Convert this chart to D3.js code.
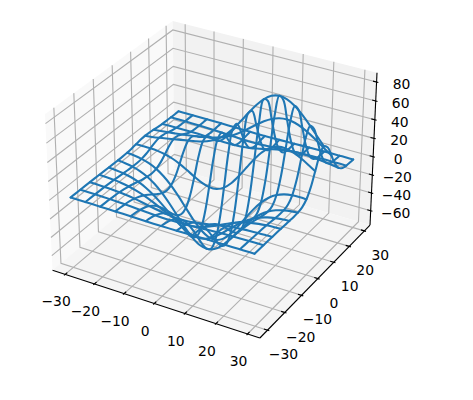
<!DOCTYPE html>
<html><head><meta charset="utf-8">
<style>html,body{margin:0;padding:0;background:#fff}svg{display:block}text{font-family:"DejaVu Sans",sans-serif;font-size:13.9px;fill:#000}</style>
<script src="https://cdn.jsdelivr.net/npm/d3@7"></script></head><body>
<svg id="c" width="473" height="400"></svg>
<script>
const xSamples=[-30,-27.5,-25,-22.5,-20,-17.5,-15,-12.5,-10,-7.5,-5,-2.5,0,2.5,5,7.5,10,12.5,15,17.5,20,22.5,25,27.5,29.5];
const ySamples=xSamples;
const xTicks=[-30,-20,-10,0,10,20,30];
const yTicks=[-30,-20,-10,0,10,20,30];
const zTicks=[-60,-40,-20,0,20,40,60,80];
// heights along the lines y = -30, -25, ... 25, 29.5 (all x samples)
const zAlongX=[
[0,0,-.04,-.07,-.12,-.19,-.29,-.40,-.54,-.67,-.78,-.86,-.88,-.86,-.78,-.67,-.54,-.40,-.29,-.19,-.12,-.07,-.04,-.02,-.01],
[-.04,-.08,-.15,-.28,-.47,-.75,-1.13,-1.60,-2.12,-2.63,-3.08,-3.38,-3.49,-3.38,-3.08,-2.63,-2.12,-1.60,-1.13,-.75,-.47,-.28,-.15,-.08,-.05],
[-.12,-.25,-.47,-.86,-1.46,-2.33,-3.50,-4.93,-6.53,-8.13,-9.50,-10.44,-10.77,-10.44,-9.50,-8.13,-6.53,-4.93,-3.50,-2.33,-1.46,-.86,-.47,-.25,-.14],
[-.29,-.59,-1.13,-2.06,-3.50,-5.59,-8.39,-11.83,-15.67,-19.50,-22.80,-25.04,-25.84,-25.04,-22.80,-19.50,-15.67,-11.83,-8.39,-5.59,-3.50,-2.06,-1.13,-.59,-.33],
[-.54,-1.10,-2.12,-3.83,-6.52,-10.43,-15.66,-22.09,-29.26,-36.41,-42.58,-46.75,-48.24,-46.75,-42.57,-36.40,-29.24,-22.07,-15.64,-10.41,-6.50,-3.81,-2.10,-1.08,-.60],
[-.75,-1.55,-3.0,-5.48,-9.34,-14.97,-22.51,-31.77,-42.12,-52.41,-61.27,-67.24,-69.29,-67.03,-60.87,-51.85,-41.42,-30.99,-21.69,-14.15,-8.56,-4.76,-2.37,-1.0,-.40],
[-.47,-1.18,-2.55,-4.96,-8.83,-14.53,-22.26,-31.77,-42.37,-52.80,-61.52,-66.98,-68.08,-64.46,-56.65,-45.91,-33.91,-22.27,-12.26,-4.54,.73,3.82,5.22,5.46,5.14],
[1.06,1.22,1.15,.56,-.79,-3.20,-6.75,-11.26,-16.15,-20.43,-22.95,-22.60,-18.70,-11.28,-1.10,10.45,21.75,31.31,38.08,41.60,42.03,39.88,35.95,30.98,26.74],
[2.49,3.56,4.85,6.30,7.83,9.33,10.79,12.35,14.34,17.29,21.75,28.19,36.68,46.85,57.77,68.21,76.82,82.54,84.70,83.19,78.42,71.13,62.23,52.62,44.96],
[1.55,2.23,3.10,4.09,5.21,6.40,7.66,9.06,10.78,13.08,16.23,20.43,25.69,31.75,38.08,43.96,48.68,51.63,52.49,51.20,48.03,43.41,37.90,31.99,27.32],
[.29,.38,.47,.51,.48,.35,.08,-.27,-.63,-.86,-.79,-.29,.73,2.23,4.08,6.03,7.83,9.23,10.08,10.34,10.04,9.29,8.24,7.02,6.03],
[-.01,-.03,-.07,-.17,-.31,-.53,-.84,-1.22,-1.64,-2.03,-2.37,-2.55,-2.55,-2.34,-1.97,-1.47,-.94,-.44,-.02,.29,.47,.55,.56,.52,.46],
[-.01,-.02,-.05,-.07,-.13,-.21,-.32,-.45,-.60,-.75,-.88,-.96,-.99,-.95,-.86,-.73,-.57,-.42,-.28,-.17,-.10,-.04,-.02,.01,.01]
];
// heights on the in-between y samples (-27.5, -22.5, ... 27.5) at x = -30, -25, ... 25, 29.5
const zBetween=[
[-.02,-.08,-.25,-.59,-1.10,-1.60,-1.81,-1.60,-1.10,-.59,-.25,-.08,-.02],
[-.07,-.28,-.86,-2.06,-3.84,-5.59,-6.33,-5.59,-3.84,-2.06,-.86,-.28,-.08],
[-.19,-.76,-2.33,-5.59,-10.44,-15.19,-17.21,-15.19,-10.44,-5.59,-2.33,-.76,-.22],
[-.40,-1.60,-4.93,-11.83,-22.10,-32.15,-36.43,-32.15,-22.10,-11.83,-4.93,-1.60,-.47],
[-.66,-2.62,-8.10,-19.44,-36.34,-52.87,-59.88,-52.79,-36.20,-19.28,-7.94,-2.50,-.67],
[-.73,-3.08,-9.81,-23.88,-44.87,-65.24,-73.40,-63.66,-42.12,-20.63,-6.71,-.56,1.01],
[.13,-1.13,-5.78,-16.45,-32.62,-47.18,-49.55,-35.48,-12.33,7.55,17.14,17.50,13.81],
[2.01,3.51,4.54,3.85,2.06,3.78,14.90,35.56,57.20,69.07,66.84,54.15,39.45],
[2.28,4.55,7.74,11.52,16.39,24.64,38.54,56.42,71.53,76.74,70.04,55.19,39.75],
[.80,1.50,2.33,3.00,3.72,5.70,10.37,17.40,24.01,27.00,25.25,20.13,14.58],
[.06,.03,-.23,-.90,-1.93,-2.76,-2.60,-1.18,.82,2.35,2.87,2.55,1.92],
[-.01,-.07,-.22,-.53,-1.0,-1.46,-1.62,-1.38,-.87,-.37,-.06,.06,.08]
];

// view limits of the box
const xLim=[-34.35,33.85], yLim=[-34.35,33.85], zLim=[-76.2,89.7];
// 3D view
const elev=30*Math.PI/180, azim=-60*Math.PI/180, dist=10;
const nrm=Math.hypot(4,4,3), k=1.8294640721620434*25/24/nrm;
const box=[4*k,4*k,3*k];
const nx=d3.scaleLinear().domain(xLim).range([0,box[0]]);
const ny=d3.scaleLinear().domain(yLim).range([0,box[1]]);
const nz=d3.scaleLinear().domain(zLim).range([0,box[2]]);
const w=[Math.cos(elev)*Math.cos(azim),Math.cos(elev)*Math.sin(azim),Math.sin(elev)];
const eye=[box[0]/2+dist*w[0],box[1]/2+dist*w[1],box[2]/2+dist*w[2]];
const cross=(a,b)=>[a[1]*b[2]-a[2]*b[1],a[2]*b[0]-a[0]*b[2],a[0]*b[1]-a[1]*b[0]];
const dot=(a,b)=>a[0]*b[0]+a[1]*b[1]+a[2]*b[2];
let u=cross([0,0,1],w);const ul=Math.hypot(...u);u=u.map(d=>d/ul);
const v=cross(w,u);
function proj(x,y,z){
  const d=[nx(x)-eye[0],ny(y)-eye[1],nz(z)-eye[2]];
  const s=-dot(w,d);
  return [dot(u,d)/s,dot(v,d)/s];
}
const corners=[];
for(const a of xLim)for(const b of yLim)for(const c of zLim)corners.push(proj(a,b,c));
const sx=d3.scaleLinear().domain(d3.extent(corners,d=>d[0])).range([45,377]);
const sy=d3.scaleLinear().domain(d3.extent(corners,d=>d[1])).range([338,21]);
const P=(x,y,z)=>{const p=proj(x,y,z);return [sx(p[0]),sy(p[1])];};

const svg=d3.select("#c");
const [x0,x1]=xLim,[y0,y1]=yLim,[z0,z1]=zLim;
const poly=d3.line();
function addPath(pts,attrs){const p=svg.append("path").attr("d",poly(pts)).attr("fill","none");for(const k in attrs)p.attr(k,attrs[k]);return p;}
// panes
addPath([P(x0,y0,z0),P(x0,y1,z0),P(x0,y1,z1),P(x0,y0,z1)],{fill:"#f9f9f9"});
addPath([P(x0,y1,z0),P(x1,y1,z0),P(x1,y1,z1),P(x0,y1,z1)],{fill:"#f2f2f2"});
addPath([P(x0,y0,z0),P(x1,y0,z0),P(x1,y1,z0),P(x0,y1,z0)],{fill:"#f5f5f5"});
// grid
const grid={stroke:"#b0b0b0","stroke-width":1.11};
xTicks.forEach(t=>addPath([P(t,y0,z0),P(t,y1,z0),P(t,y1,z1)],grid));
yTicks.forEach(t=>addPath([P(x1,t,z0),P(x0,t,z0),P(x0,t,z1)],grid));
zTicks.forEach(t=>addPath([P(x1,y1,t),P(x0,y1,t),P(x0,y0,t)],grid));
// axis lines
const ax={stroke:"#000","stroke-width":1.11};
addPath([P(x0,y0,z0),P(x1,y0,z0)],ax);
addPath([P(x1,y0,z0),P(x1,y1,z0)],ax);
addPath([P(x1,y1,z0),P(x1,y1,z1)],ax);
// ticks and labels
const dy=(y1-y0)/12,dx=(x1-x0)/12;
const fmt=t=>String(t).replace("-","\u2212");
function label(p,ox,oy,t){svg.append("text").attr("x",p[0]+ox).attr("y",p[1]+oy).attr("text-anchor","middle").attr("dominant-baseline","central").text(fmt(t));}
xTicks.forEach(t=>{addPath([P(t,y0-.1*dy,z0),P(t,y0+.2*dy,z0)],ax);label(P(t,y0,z0),-9,27,t);});
yTicks.forEach(t=>{addPath([P(x1-.2*dx,t,z0),P(x1+.1*dx,t,z0)],ax);label(P(x1,t,z0),16,24,t);});
zTicks.forEach(t=>{addPath([P(x1-.2*dx,y1,t),P(x1+.1*dx,y1,t)],ax);label(P(x1,y1,t),25,2,t);});
// wireframe
const wire=d3.line().curve(d3.curveCatmullRom.alpha(.5));
const g=svg.append("g").attr("fill","none").attr("stroke","#1f77b4").attr("stroke-width",2.08).attr("stroke-linejoin","round").attr("stroke-linecap","round");
zAlongX.forEach((row,r)=>{
  const yv=ySamples[r*2];
  g.append("path").attr("d",wire(row.map((z,i)=>P(xSamples[i],yv,z))));
});
xSamples.forEach((xv,i)=>{
  if(i%2) return;
  const pts=ySamples.map((yv,j)=>{
    const z=j%2===0?zAlongX[j/2][i]:zBetween[(j-1)/2][i/2];
    return P(xv,yv,z);
  });
  g.append("path").attr("d",wire(pts));
});
</script></body></html>
